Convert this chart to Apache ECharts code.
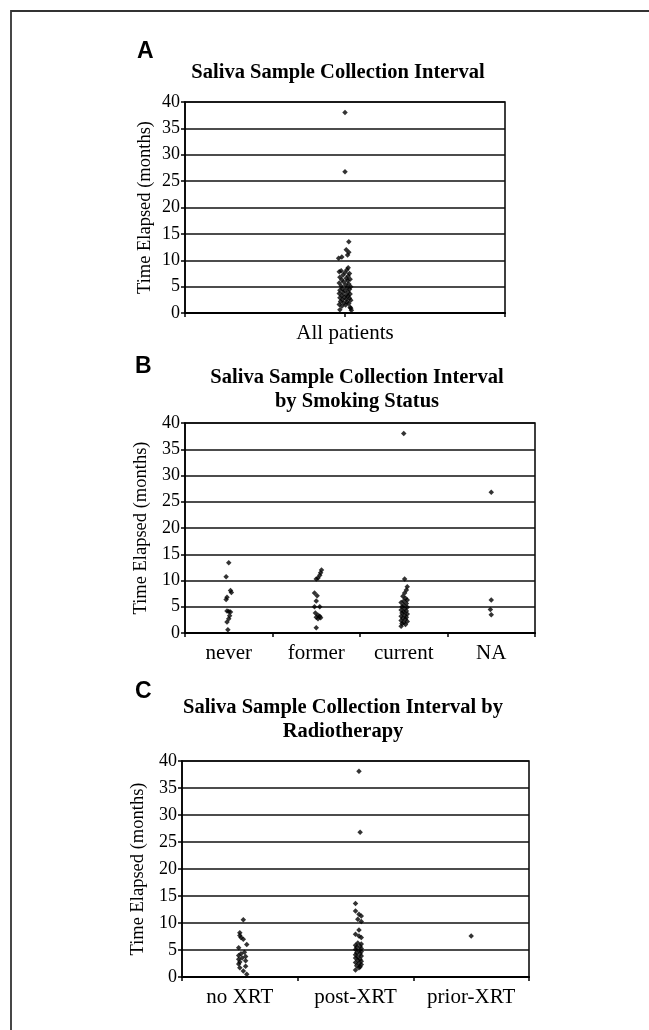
<!DOCTYPE html>
<html>
<head>
<meta charset="utf-8">
<script src="https://cdn.jsdelivr.net/npm/echarts@6/dist/echarts.min.js"></script>
<style>
html,body{margin:0;padding:0;background:#fff;}
#main{width:649px;height:1030px;}
</style>
</head>
<body>
<div id="main"></div>
<script>
// 数据: [水平抖动(类目宽度的比例), 月数]
var allLabels = ['All patients'];
var allPatients = [
    [0.000,38.0],[0.000,26.8],[0.012,13.5],[0.004,12.0],[0.012,11.5],[0.008,11.0],[-0.010,10.6],[-0.020,10.4],
    [0.010,8.6],[0.006,8.2],[-0.012,8.0],[-0.018,7.8],[0.000,7.7],[0.014,7.5],[-0.006,7.2],[0.010,7.0],
    [-0.016,6.8],[0.004,6.6],[0.016,6.4],[-0.010,6.3],[0.008,6.1],[-0.004,5.9],[-0.018,5.7],[0.012,5.5],
    [0.002,5.3],[-0.012,5.1],[0.018,5.0],[0.006,4.8],[-0.008,4.6],[0.014,4.5],[-0.016,4.3],[0.000,4.2],
    [0.010,4.0],[-0.006,3.9],[-0.018,3.7],[0.016,3.6],[0.004,3.4],[-0.010,3.3],[0.010,3.2],[-0.002,3.0],
    [-0.016,2.9],[0.014,2.8],[0.004,2.6],[-0.008,2.5],[0.018,2.4],[-0.014,2.2],[0.006,2.1],[-0.004,1.9],
    [0.012,1.8],[-0.018,1.6],[0.002,1.5],[-0.010,1.3],[0.016,1.1],[0.018,0.9],[-0.016,0.6],[0.020,0.5]
];

var smokingLabels = ['never','former','current','NA'];
var never = [[0.00,13.4],[-0.03,10.7],[0.02,8.1],[0.03,7.7],[-0.02,6.8],[-0.03,6.4],[-0.02,4.2],[0.00,4.1],
    [0.02,4.0],[0.01,3.3],[0.00,2.7],[-0.02,2.1],[-0.01,0.6]];
var former = [[0.06,12.0],[0.05,11.5],[0.04,11.0],[0.02,10.5],[0.00,10.3],[-0.02,7.6],[0.01,7.1],[0.00,6.1],
    [-0.02,5.0],[0.04,5.0],[-0.01,3.8],[0.02,3.4],[0.04,3.2],[0.00,3.0],[0.05,2.9],[0.02,2.7],[0.00,1.0]];
var current = [[0.00,38.0],[0.01,10.3],[0.04,8.8],[0.03,8.2],[0.01,7.6],[-0.01,7.0],[0.02,6.6],[0.04,6.3],
    [0.00,6.1],[-0.03,5.8],[0.03,5.6],[0.00,5.3],[-0.02,5.0],[0.04,4.9],[0.01,4.6],[-0.03,4.4],[0.03,4.2],
    [0.00,4.0],[-0.02,3.8],[0.04,3.6],[0.01,3.4],[-0.03,3.2],[0.03,3.0],[-0.01,2.8],[0.02,2.6],[-0.03,2.4],
    [0.04,2.2],[0.00,2.0],[-0.02,1.8],[0.02,1.6],[-0.03,1.3]];
var notAvailable = [[0.00,26.8],[0.00,6.3],[-0.01,4.5],[0.00,3.5]];

var xrtLabels = ['no XRT','post-XRT','prior-XRT'];
var noXRT = [[0.03,10.6],[0.00,8.2],[0.00,7.7],[0.01,7.3],[0.03,7.0],[0.06,6.0],[-0.01,5.4],[0.04,4.6],
    [0.01,4.3],[-0.01,4.0],[0.05,3.8],[0.02,3.5],[-0.01,3.3],[0.05,3.0],[0.00,2.8],[-0.01,2.4],[0.05,2.0],
    [0.00,1.7],[0.03,1.1],[0.06,0.5]];
var postXRT = [[0.03,38.1],[0.04,26.8],[0.00,13.6],[0.00,12.2],[0.03,11.6],[0.05,11.3],[0.02,10.7],[0.05,10.3],
    [0.03,8.7],[0.00,7.9],[0.03,7.6],[0.05,7.3],[0.02,6.3],[0.05,6.1],[0.00,5.9],[0.04,5.7],[0.01,5.5],
    [0.05,5.3],[0.00,5.1],[0.03,4.9],[0.05,4.7],[0.01,4.5],[0.04,4.3],[0.00,4.1],[0.05,3.9],[0.02,3.7],
    [0.00,3.5],[0.04,3.3],[0.02,3.1],[0.05,2.9],[0.00,2.7],[0.03,2.5],[0.05,2.3],[0.01,2.1],[0.04,1.9],
    [0.03,1.7],[0.00,1.3]];
var priorXRT = [[0.00,7.6]];

var yTicks = {min:0, max:40, interval:5};

var serif = 'Liberation Serif';
var panels = [
    {letter:'A', title:'Saliva Sample Collection Interval', labels:allLabels, span:2, groups:[allPatients],
     grid:{left:185, top:102, width:320, height:211}, lx:137, ly:52, tx:338, ty:73},
    {letter:'B', title:'Saliva Sample Collection Interval\nby Smoking Status', labels:smokingLabels, span:4,
     groups:[never, former, current, notAvailable],
     grid:{left:185, top:423, width:350, height:210}, lx:135, ly:367, tx:357, ty:390},
    {letter:'C', title:'Saliva Sample Collection Interval by\nRadiotherapy', labels:xrtLabels, span:3,
     groups:[noXRT, postXRT, priorXRT],
     grid:{left:182, top:761, width:347, height:216}, lx:135, ly:692, tx:343, ty:720}
];

var grids = [], xAxes = [], yAxes = [], series = [], graphics = [];

// 外框 (只有上边和左边在图内)
graphics.push({
    type:'polyline',
    shape:{points:[[11,1030],[11,11],[649,11]]},
    style:{stroke:'#333', lineWidth:1.8, fill:null}
});

panels.forEach(function(p, k){
    grids.push({
        left:p.grid.left, top:p.grid.top, width:p.grid.width, height:p.grid.height,
        show:true, borderColor:'#000', borderWidth:1.5, backgroundColor:'#fff'
    });
    // 数值x轴: 放点和刻度
    xAxes.push({
        type:'value', gridIndex:k, min:0, max:p.span, interval:1,
        axisLine:{show:true, onZero:false, lineStyle:{color:'#000', width:2}},
        axisTick:{show:true, length:4, lineStyle:{color:'#000', width:1.5}},
        axisLabel:{show:false},
        splitLine:{show:false}
    });
    // 类目x轴: 只显示标签
    xAxes.push({
        type:'category', gridIndex:k, data:p.labels, position:'bottom',
        axisLine:{show:false}, axisTick:{show:false},
        axisLabel:{margin:10, color:'#000', fontFamily:serif, fontSize:21}
    });
    yAxes.push({
        type:'value', gridIndex:k, min:yTicks.min, max:yTicks.max, interval:yTicks.interval,
        name:'Time Elapsed (months)', nameLocation:'middle', nameGap:30,
        nameTextStyle:{color:'#000', fontFamily:serif, fontSize:18.5},
        axisLine:{show:true, lineStyle:{color:'#000', width:1.5}},
        axisTick:{show:true, length:4, lineStyle:{color:'#000', width:1.5}},
        axisLabel:{margin:5, color:'#000', fontFamily:serif, fontSize:18},
        splitLine:{show:true, lineStyle:{color:'#111', width:1.5}}
    });
    var n = p.groups.length, w = p.span / n;
    p.groups.forEach(function(g, i){
        series.push({
            type:'scatter', xAxisIndex:k*2, yAxisIndex:k,
            symbol:'diamond', symbolSize:5.5, silent:true,
            itemStyle:{color:'#000'},
            data:g.map(function(d){ return [(i + 0.5 + d[0]) * w, d[1]]; })
        });
    });
    graphics.push({
        type:'text', x:p.lx, y:p.ly,
        style:{text:p.letter, font:'bold 23px "Liberation Sans"', fill:'#000', textAlign:'left', textVerticalAlign:'middle'}
    });
    graphics.push({
        type:'text', x:p.tx, y:p.ty,
        style:{text:p.title, font:'bold 20.5px "Liberation Serif"', fill:'#000', textAlign:'center',
            textVerticalAlign:'middle', lineHeight:24}
    });
});

var option = {
    animation:false,
    backgroundColor:'#fff',
    grid:grids,
    xAxis:xAxes,
    yAxis:yAxes,
    series:series,
    graphic:graphics
};
var chart = echarts.init(document.getElementById('main'));
chart.setOption(option);
</script>
</body>
</html>
